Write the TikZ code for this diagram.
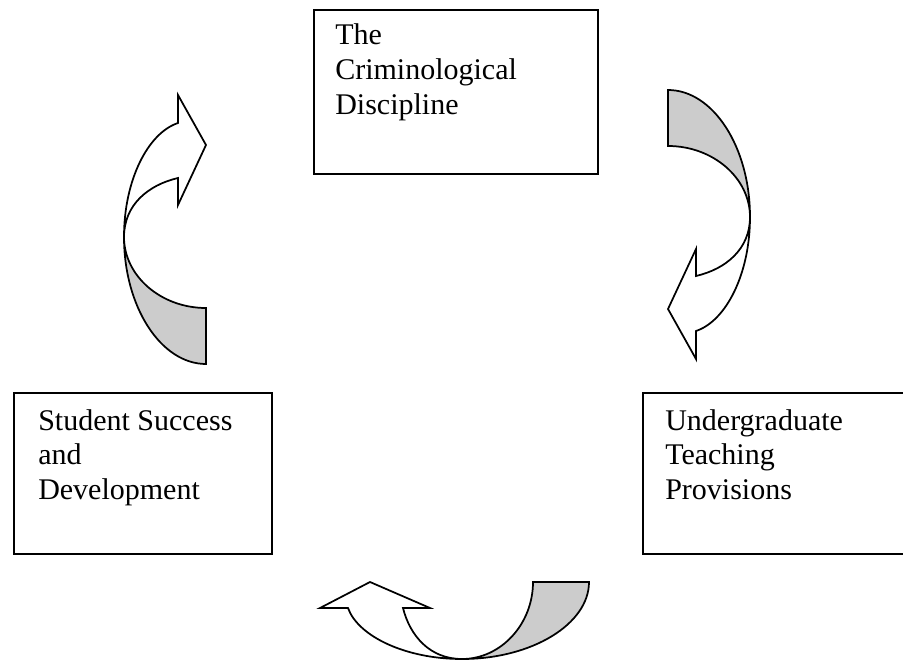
\documentclass[tikz,border=0pt]{standalone}
\usepackage{fontspec}
\setmainfont{Liberation Serif}
\definecolor{shade}{HTML}{CCCCCC}
\begin{document}
\begin{tikzpicture}[x=0.75pt,y=-0.75pt,
  box/.style={draw, line width=1.6pt, inner sep=0pt, anchor=north west},
  labeltext/.style={anchor=base west, inner sep=0pt, font=\fontsize{22.5}{26}\selectfont},
  whitepart/.style={draw, line width=1.3pt, line join=miter, fill=white},
  graypart/.style={draw, line width=1.3pt, line join=miter, fill=shade}]
\useasboundingbox (0,0) rectangle (903,663);
\clip (0,0) rectangle (903,663);

% boxes
\node[box, minimum width=213pt, minimum height=123pt] (top) at (313,9) {};
\node[box, minimum width=193.5pt, minimum height=120.75pt] (left) at (13,392) {};
\node[box, minimum width=201pt, minimum height=120.75pt] (right) at (642,392) {};

\node[labeltext] (toptext) at (335,45) {\parbox[t]{200pt}{The\\Criminological\\Discipline}};
\node[labeltext] (lefttext) at (38,430) {\parbox[t]{200pt}{Student Success\\and\\Development}};
\node[labeltext] (righttext) at (665,430) {\parbox[t]{200pt}{Undergraduate\\Teaching\\Provisions}};

% left curved arrow (pointing right, toward the top box)
\path[graypart] (124,237) .. controls (124,307) and (161,364) .. (206,364)
  -- (206,308) .. controls (161,308) and (124,276) .. (124,237) -- cycle;
\path[whitepart] (124,237) .. controls (124,180) and (148,133) .. (178,123)
  -- (178,95) -- (206,145) -- (178,205) -- (178,178)
  .. controls (148,185) and (124,205) .. (124,237) -- cycle;

% right curved arrow (pointing left, toward the right box)
\path[graypart] (750,217) .. controls (750,147) and (713,90) .. (668,90)
  -- (668,146) .. controls (713,146) and (750,178) .. (750,217) -- cycle;
\path[whitepart] (750,217) .. controls (750,274) and (726,321) .. (696,331)
  -- (696,359) -- (668,309) -- (696,249) -- (696,276)
  .. controls (726,269) and (750,249) .. (750,217) -- cycle;

% bottom curved arrow (pointing up, toward the left box)
\path[graypart] (462,659) .. controls (532,659) and (589,624) .. (589,582)
  -- (533,582) .. controls (533,624) and (501,659) .. (462,659) -- cycle;
\path[whitepart] (462,659) .. controls (405,659) and (358,636) .. (348,608)
  -- (320,608) -- (370,582) -- (430,608) -- (403,608)
  .. controls (410,636) and (430,659) .. (462,659) -- cycle;
\end{tikzpicture}
\end{document}
